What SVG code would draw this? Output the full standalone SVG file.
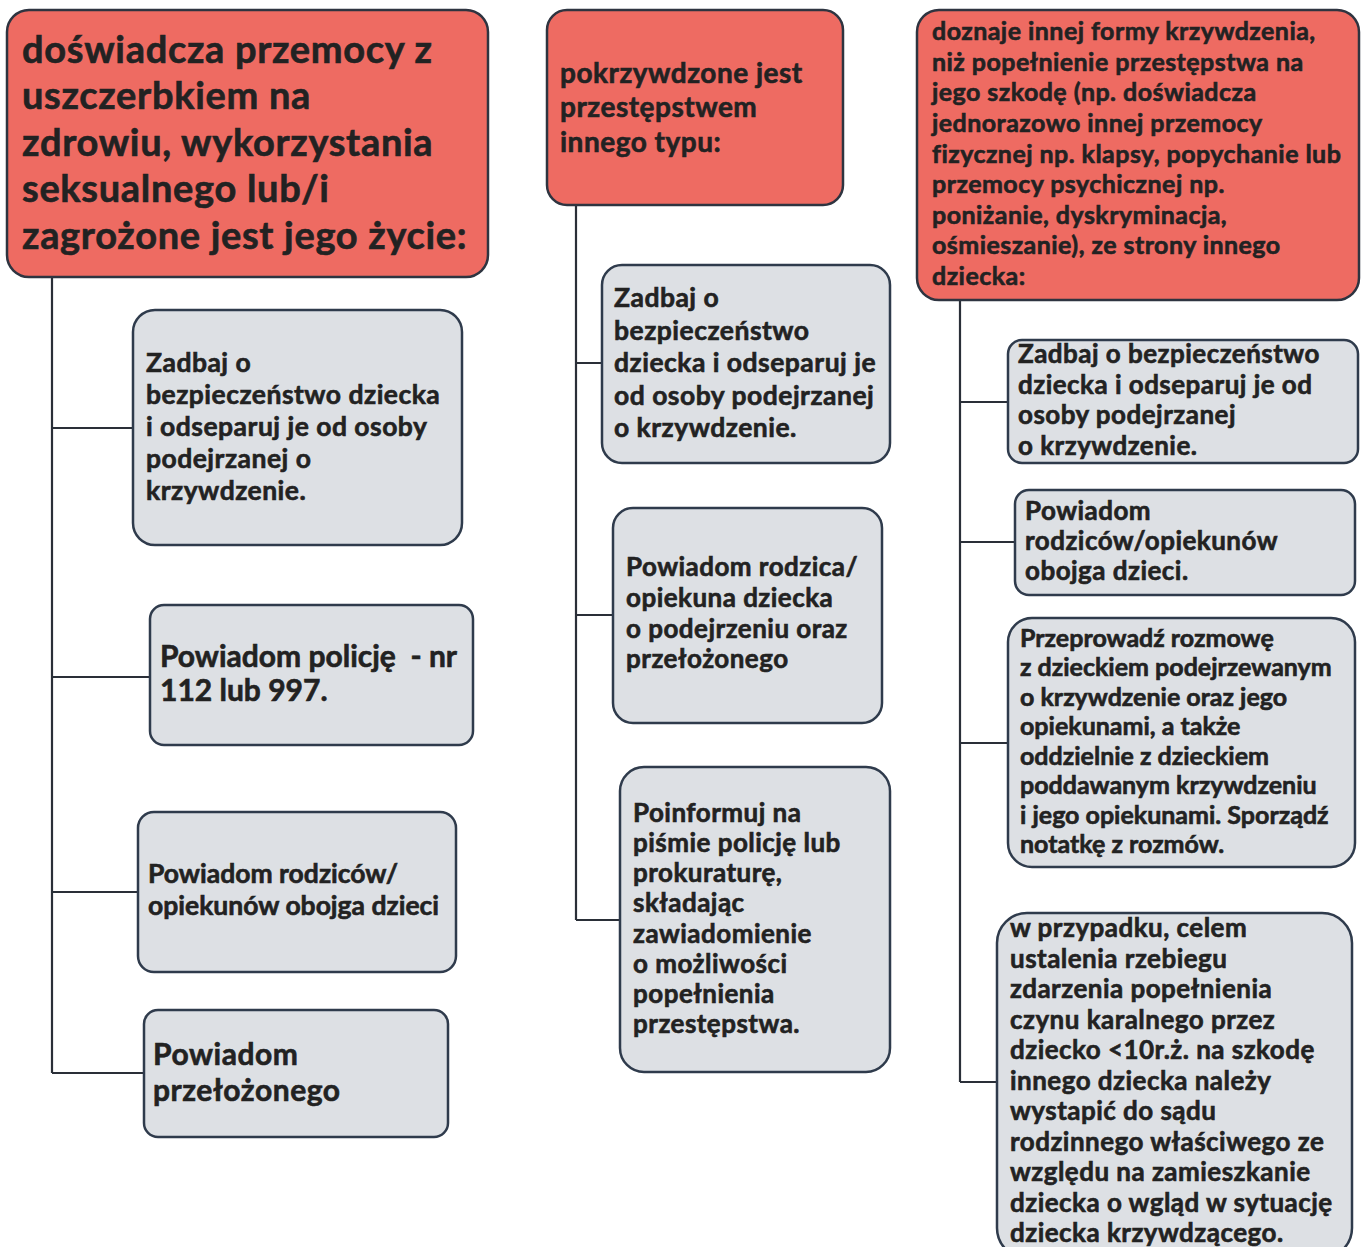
<svg xmlns="http://www.w3.org/2000/svg" width="1362" height="1247" viewBox="0 0 1362 1247">
<style>
.red{fill:#EE6B62;stroke:#2E3440;stroke-width:2.5}
.grey{fill:#DDE0E4;stroke:#2F3B4C;stroke-width:2.5}
.t{font-family:Lato,"Noto Sans",sans-serif;font-weight:bold;fill:#222222;stroke:#222222;stroke-width:0.6;letter-spacing:0.018em}
.tight{letter-spacing:0}
.conn{fill:none;stroke:#2A2F38;stroke-width:2.2}
</style>
<rect width="1362" height="1247" fill="#ffffff"/>
<g id="connectors">
<path class="conn" d="M52 277 V1073 M52 428 H133 M52 677 H150 M52 892 H138 M52 1073 H144"/>
<path class="conn" d="M576 205 V920 M576 363 H602 M576 615 H613 M576 920 H620"/>
<path class="conn" d="M960 300 V1082 M960 402 H1008 M960 542 H1015 M960 743 H1008 M960 1082 H997"/>
</g>
<g id="c1-head">
<rect class="red" x="7" y="10" width="481" height="267" rx="22"/>
<text class="t" font-size="38"><tspan x="22" y="63">doświadcza przemocy z</tspan><tspan x="22" y="109">uszczerbkiem na</tspan><tspan x="22" y="156">zdrowiu, wykorzystania</tspan><tspan x="22" y="202">seksualnego lub/i</tspan><tspan x="22" y="249">zagrożone jest jego życie:</tspan></text>
</g>
<g id="c1-n1">
<rect class="grey" x="133" y="310" width="329" height="235" rx="22"/>
<text class="t" font-size="26.5"><tspan x="146" y="372">Zadbaj o</tspan><tspan x="146" y="404">bezpieczeństwo dziecka</tspan><tspan x="146" y="436">i odseparuj je od osoby</tspan><tspan x="146" y="468">podejrzanej o</tspan><tspan x="146" y="500">krzywdzenie.</tspan></text>
</g>
<g id="c1-n2">
<rect class="grey" x="150" y="605" width="323" height="140" rx="14"/>
<text class="t tight" font-size="30"><tspan x="160" y="667">Powiadom policję&#160; - nr</tspan><tspan x="160" y="701">112 lub 997.</tspan></text>
</g>
<g id="c1-n3">
<rect class="grey" x="138" y="812" width="318" height="160" rx="16"/>
<text class="t tight" font-size="26.5"><tspan x="148" y="883">Powiadom rodziców/</tspan><tspan x="148" y="915">opiekunów obojga dzieci</tspan></text>
</g>
<g id="c1-n4">
<rect class="grey" x="144" y="1010" width="304" height="127" rx="14"/>
<text class="t" font-size="30"><tspan x="153" y="1065">Powiadom</tspan><tspan x="153" y="1101">przełożonego</tspan></text>
</g>
<g id="c2-head">
<rect class="red" x="547" y="10" width="296" height="195" rx="20"/>
<text class="t" font-size="28"><tspan x="560" y="83">pokrzywdzone jest</tspan><tspan x="560" y="117">przestępstwem</tspan><tspan x="560" y="152">innego typu:</tspan></text>
</g>
<g id="c2-n1">
<rect class="grey" x="602" y="265" width="288" height="198" rx="20"/>
<text class="t" font-size="26.5"><tspan x="614" y="307">Zadbaj o</tspan><tspan x="614" y="340">bezpieczeństwo</tspan><tspan x="614" y="372">dziecka i odseparuj je</tspan><tspan x="614" y="405">od osoby podejrzanej</tspan><tspan x="614" y="437">o krzywdzenie.</tspan></text>
</g>
<g id="c2-n2">
<rect class="grey" x="613" y="508" width="269" height="215" rx="20"/>
<text class="t" font-size="26"><tspan x="626" y="576">Powiadom rodzica/</tspan><tspan x="626" y="607">opiekuna dziecka</tspan><tspan x="626" y="638">o podejrzeniu oraz</tspan><tspan x="626" y="668">przełożonego</tspan></text>
</g>
<g id="c2-n3">
<rect class="grey" x="620" y="767" width="270" height="305" rx="24"/>
<text class="t" font-size="26"><tspan x="633" y="822">Poinformuj na</tspan><tspan x="633" y="852">piśmie policję lub</tspan><tspan x="633" y="882">prokuraturę,</tspan><tspan x="633" y="912">składając</tspan><tspan x="633" y="943">zawiadomienie</tspan><tspan x="633" y="973">o możliwości</tspan><tspan x="633" y="1003">popełnienia</tspan><tspan x="633" y="1033">przestępstwa.</tspan></text>
</g>
<g id="c3-head">
<rect class="red" x="917" y="10" width="442" height="290" rx="22"/>
<text class="t" font-size="25"><tspan x="932" y="40">doznaje innej formy krzywdzenia,</tspan><tspan x="932" y="71">niż popełnienie przestępstwa na</tspan><tspan x="932" y="101">jego szkodę (np. doświadcza</tspan><tspan x="932" y="132">jednorazowo innej przemocy</tspan><tspan x="932" y="163">fizycznej np. klapsy, popychanie lub</tspan><tspan x="932" y="193">przemocy psychicznej np.</tspan><tspan x="932" y="224">poniżanie, dyskryminacja,</tspan><tspan x="932" y="254">ośmieszanie), ze strony innego</tspan><tspan x="932" y="285">dziecka:</tspan></text>
</g>
<g id="c3-n1">
<rect class="grey" x="1008" y="340" width="350" height="123" rx="14"/>
<text class="t" font-size="26"><tspan x="1018" y="363">Zadbaj o bezpieczeństwo</tspan><tspan x="1018" y="394">dziecka i odseparuj je od</tspan><tspan x="1018" y="424">osoby podejrzanej</tspan><tspan x="1018" y="455">o krzywdzenie.</tspan></text>
</g>
<g id="c3-n2">
<rect class="grey" x="1015" y="490" width="340" height="105" rx="14"/>
<text class="t" font-size="26"><tspan x="1025" y="520">Powiadom</tspan><tspan x="1025" y="550">rodziców/opiekunów</tspan><tspan x="1025" y="580">obojga dzieci.</tspan></text>
</g>
<g id="c3-n3">
<rect class="grey" x="1008" y="618" width="347" height="249" rx="24"/>
<text class="t tight" font-size="25"><tspan x="1020" y="647">Przeprowadź rozmowę</tspan><tspan x="1020" y="676">z dzieckiem podejrzewanym</tspan><tspan x="1020" y="706">o krzywdzenie oraz jego</tspan><tspan x="1020" y="735">opiekunami, a także</tspan><tspan x="1020" y="765">oddzielnie z dzieckiem</tspan><tspan x="1020" y="794">poddawanym krzywdzeniu</tspan><tspan x="1020" y="824">i jego opiekunami. Sporządź</tspan><tspan x="1020" y="853">notatkę z rozmów.</tspan></text>
</g>
<g id="c3-n4">
<rect class="grey" x="997" y="913" width="355" height="345" rx="30"/>
<text class="t" font-size="26"><tspan x="1010" y="937">w przypadku, celem</tspan><tspan x="1010" y="968">ustalenia rzebiegu</tspan><tspan x="1010" y="998">zdarzenia popełnienia</tspan><tspan x="1010" y="1029">czynu karalnego przez</tspan><tspan x="1010" y="1059">dziecko &lt;10r.ż. na szkodę</tspan><tspan x="1010" y="1090">innego dziecka należy</tspan><tspan x="1010" y="1120">wystapić do sądu</tspan><tspan x="1010" y="1151">rodzinnego właściwego ze</tspan><tspan x="1010" y="1181">względu na zamieszkanie</tspan><tspan x="1010" y="1212">dziecka o wgląd w sytuację</tspan><tspan x="1010" y="1242">dziecka krzywdzącego.</tspan></text>
</g>
</svg>
